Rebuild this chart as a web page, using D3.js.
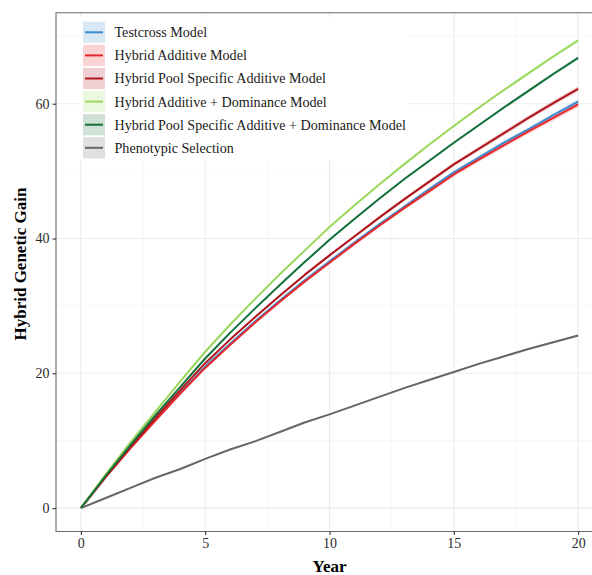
<!DOCTYPE html>
<html>
<head>
<meta charset="utf-8">
<script src="https://cdn.jsdelivr.net/npm/d3@7"></script>
<style>
  body { margin: 0; background: #fff; }
  svg { display: block; }
  text { font-family: "Liberation Serif", "DejaVu Serif", serif; }
</style>
</head>
<body>
<svg id="chart" width="592" height="575"></svg>
<script>
// ---------- data ----------
const years = [0,1,2,3,4,5,6,7,8,9,10,11,12,13,14,15,16,17,18,19,20];

const testcross = [0,4.6,9.0,13.1,17.1,21.0,24.4,27.7,30.8,33.8,36.6,39.4,42.1,44.7,47.3,49.8,52.0,54.2,56.2,58.3,60.3];
const hybridAdditive = [0,4.6,8.9,13.0,17.0,20.8,24.2,27.5,30.6,33.6,36.4,39.2,41.9,44.5,47.0,49.5,51.7,53.8,55.9,57.9,59.9];
const hybridPoolAdditive = [0,4.7,9.1,13.4,17.5,21.5,25.0,28.3,31.5,34.6,37.5,40.3,43.1,45.8,48.4,51.0,53.3,55.6,57.9,60.1,62.2];
const hybridAddDom = [0,5.0,9.8,14.3,18.8,23.2,27.2,31.0,34.7,38.2,41.7,44.9,48.0,51.0,53.9,56.7,59.4,62.0,64.5,67.0,69.4];
const hybridPoolAddDom = [0,4.8,9.4,13.8,18.0,22.2,26.0,29.6,33.1,36.5,39.8,42.9,45.9,48.8,51.5,54.2,56.8,59.4,61.9,64.4,66.8];
const phenotypic = [0,1.5,3.0,4.5,5.8,7.3,8.7,9.9,11.3,12.7,13.9,15.2,16.5,17.8,19.0,20.2,21.4,22.5,23.6,24.6,25.6];

// half-width of the confidence ribbon at year 20, per series
const ribbonHalf = [0.35, 0.45, 0.4, 0.25, 0.25, 0.15];

const seriesNames = [
  "Testcross Model",
  "Hybrid Additive Model",
  "Hybrid Pool Specific Additive Model",
  "Hybrid Additive + Dominance Model",
  "Hybrid Pool Specific Additive + Dominance Model",
  "Phenotypic Selection"
];
const seriesColors = ["#3d8bcd", "#e8272a", "#b0141c", "#9ad85c", "#12703a", "#666666"];

const xTicks = [0, 5, 10, 15, 20];
const yTicks = [0, 20, 40, 60];
const yMinor = [10, 30, 50, 70];
const xMinor = [2.5, 7.5, 12.5, 17.5];

const seriesValues = [testcross, hybridAdditive, hybridPoolAdditive, hybridAddDom, hybridPoolAddDom, phenotypic];

// ---------- layout ----------
const svg = d3.select("#chart");
const panel = { left: 56, top: 12.7, bottom: 531.5, right: 603 };

const x = d3.scaleLinear().domain([-1, 21]).range([panel.left, panel.right]);
const y = d3.scaleLinear().domain([-3.47, 73.5]).range([panel.bottom, panel.top]);

svg.append("defs").append("clipPath").attr("id", "pclip")
  .append("rect").attr("x", panel.left).attr("y", panel.top)
  .attr("width", panel.right - panel.left).attr("height", panel.bottom - panel.top);

const g = svg.append("g").attr("clip-path", "url(#pclip)");

// grid
g.selectAll(".ymin").data(yMinor).join("line")
  .attr("x1", panel.left).attr("x2", panel.right)
  .attr("y1", d => y(d)).attr("y2", d => y(d))
  .attr("stroke", "#f2f2f2").attr("stroke-width", 0.6);
g.selectAll(".xmin").data(xMinor).join("line")
  .attr("y1", panel.top).attr("y2", panel.bottom)
  .attr("x1", d => x(d)).attr("x2", d => x(d))
  .attr("stroke", "#f2f2f2").attr("stroke-width", 0.6);
g.selectAll(".ymaj").data(yTicks).join("line")
  .attr("x1", panel.left).attr("x2", panel.right)
  .attr("y1", d => y(d)).attr("y2", d => y(d))
  .attr("stroke", "#ebebeb").attr("stroke-width", 1.1);
g.selectAll(".xmaj").data(xTicks).join("line")
  .attr("y1", panel.top).attr("y2", panel.bottom)
  .attr("x1", d => x(d)).attr("x2", d => x(d))
  .attr("stroke", "#ebebeb").attr("stroke-width", 1.1);

// ribbons + lines
const area = (vals, hw) => d3.area()
  .x((d, i) => x(years[i]))
  .y0((d, i) => y(d - hw * years[i] / 20))
  .y1((d, i) => y(d + hw * years[i] / 20))(vals);
const line = d3.line().x((d, i) => x(years[i])).y(d => y(d));

const order = [5, 0, 1, 2, 3, 4];
order.forEach(k => {
  g.append("path").attr("d", area(seriesValues[k], ribbonHalf[k]))
    .attr("fill", seriesColors[k]).attr("fill-opacity", 0.2);
});
order.forEach(k => {
  g.append("path").attr("d", line(seriesValues[k]))
    .attr("fill", "none").attr("stroke", seriesColors[k])
    .attr("stroke-width", 2).attr("stroke-linejoin", "round");
});

// legend
const lg = svg.append("g");
lg.append("rect").attr("x", 80).attr("y", 17).attr("width", 328).attr("height", 143).attr("fill", "#fff");
const rowH = 23.1, row0 = 32.3;
seriesNames.forEach((name, i) => {
  const cy = row0 + i * rowH;
  lg.append("rect").attr("x", 83).attr("y", cy - 10.6).attr("width", 22).attr("height", 21.2)
    .attr("fill", seriesColors[i]).attr("fill-opacity", 0.2);
  lg.append("line").attr("x1", 85).attr("x2", 103).attr("y1", cy).attr("y2", cy)
    .attr("stroke", seriesColors[i]).attr("stroke-width", 2);
  lg.append("text").attr("x", 114.5).attr("y", cy).attr("dy", "0.35em")
    .attr("font-size", 14.1).attr("fill", "#1a1a1a").text(name);
});

// panel border (top, left, bottom)
svg.append("path")
  .attr("d", `M${panel.right},${panel.top}H${panel.left}V${panel.bottom}H${panel.right}`)
  .attr("fill", "none").attr("stroke", "#6b6b6b").attr("stroke-width", 1.1);

// axes
const xAxis = d3.axisBottom(x).tickValues(xTicks).tickSize(3.5).tickPadding(3);
const xa = svg.append("g").attr("transform", `translate(0,${panel.bottom})`).call(xAxis);
xa.select(".domain").remove();
xa.selectAll("line").attr("stroke", "#333").attr("stroke-width", 1.1);
xa.selectAll("text").attr("font-size", 14).attr("fill", "#2a2a2a")
  .attr("font-family", "Liberation Serif, serif");

const yAxis = d3.axisLeft(y).tickValues(yTicks).tickSize(3.5).tickPadding(3);
const ya = svg.append("g").attr("transform", `translate(${panel.left},0)`).call(yAxis);
ya.select(".domain").remove();
ya.selectAll("line").attr("stroke", "#333").attr("stroke-width", 1.1);
ya.selectAll("text").attr("font-size", 14).attr("fill", "#2a2a2a")
  .attr("font-family", "Liberation Serif, serif");

// axis titles
svg.append("text").attr("x", x(10)).attr("y", 566).attr("dy", "0.35em")
  .attr("text-anchor", "middle").attr("font-size", 17).attr("font-weight", "bold")
  .attr("fill", "#000").text("Year");
svg.append("text").attr("transform", `translate(20,264) rotate(-90)`)
  .attr("dy", "0.35em").attr("text-anchor", "middle").attr("font-size", 17)
  .attr("font-weight", "bold").attr("fill", "#000").text("Hybrid Genetic Gain");
</script>
</body>
</html>
